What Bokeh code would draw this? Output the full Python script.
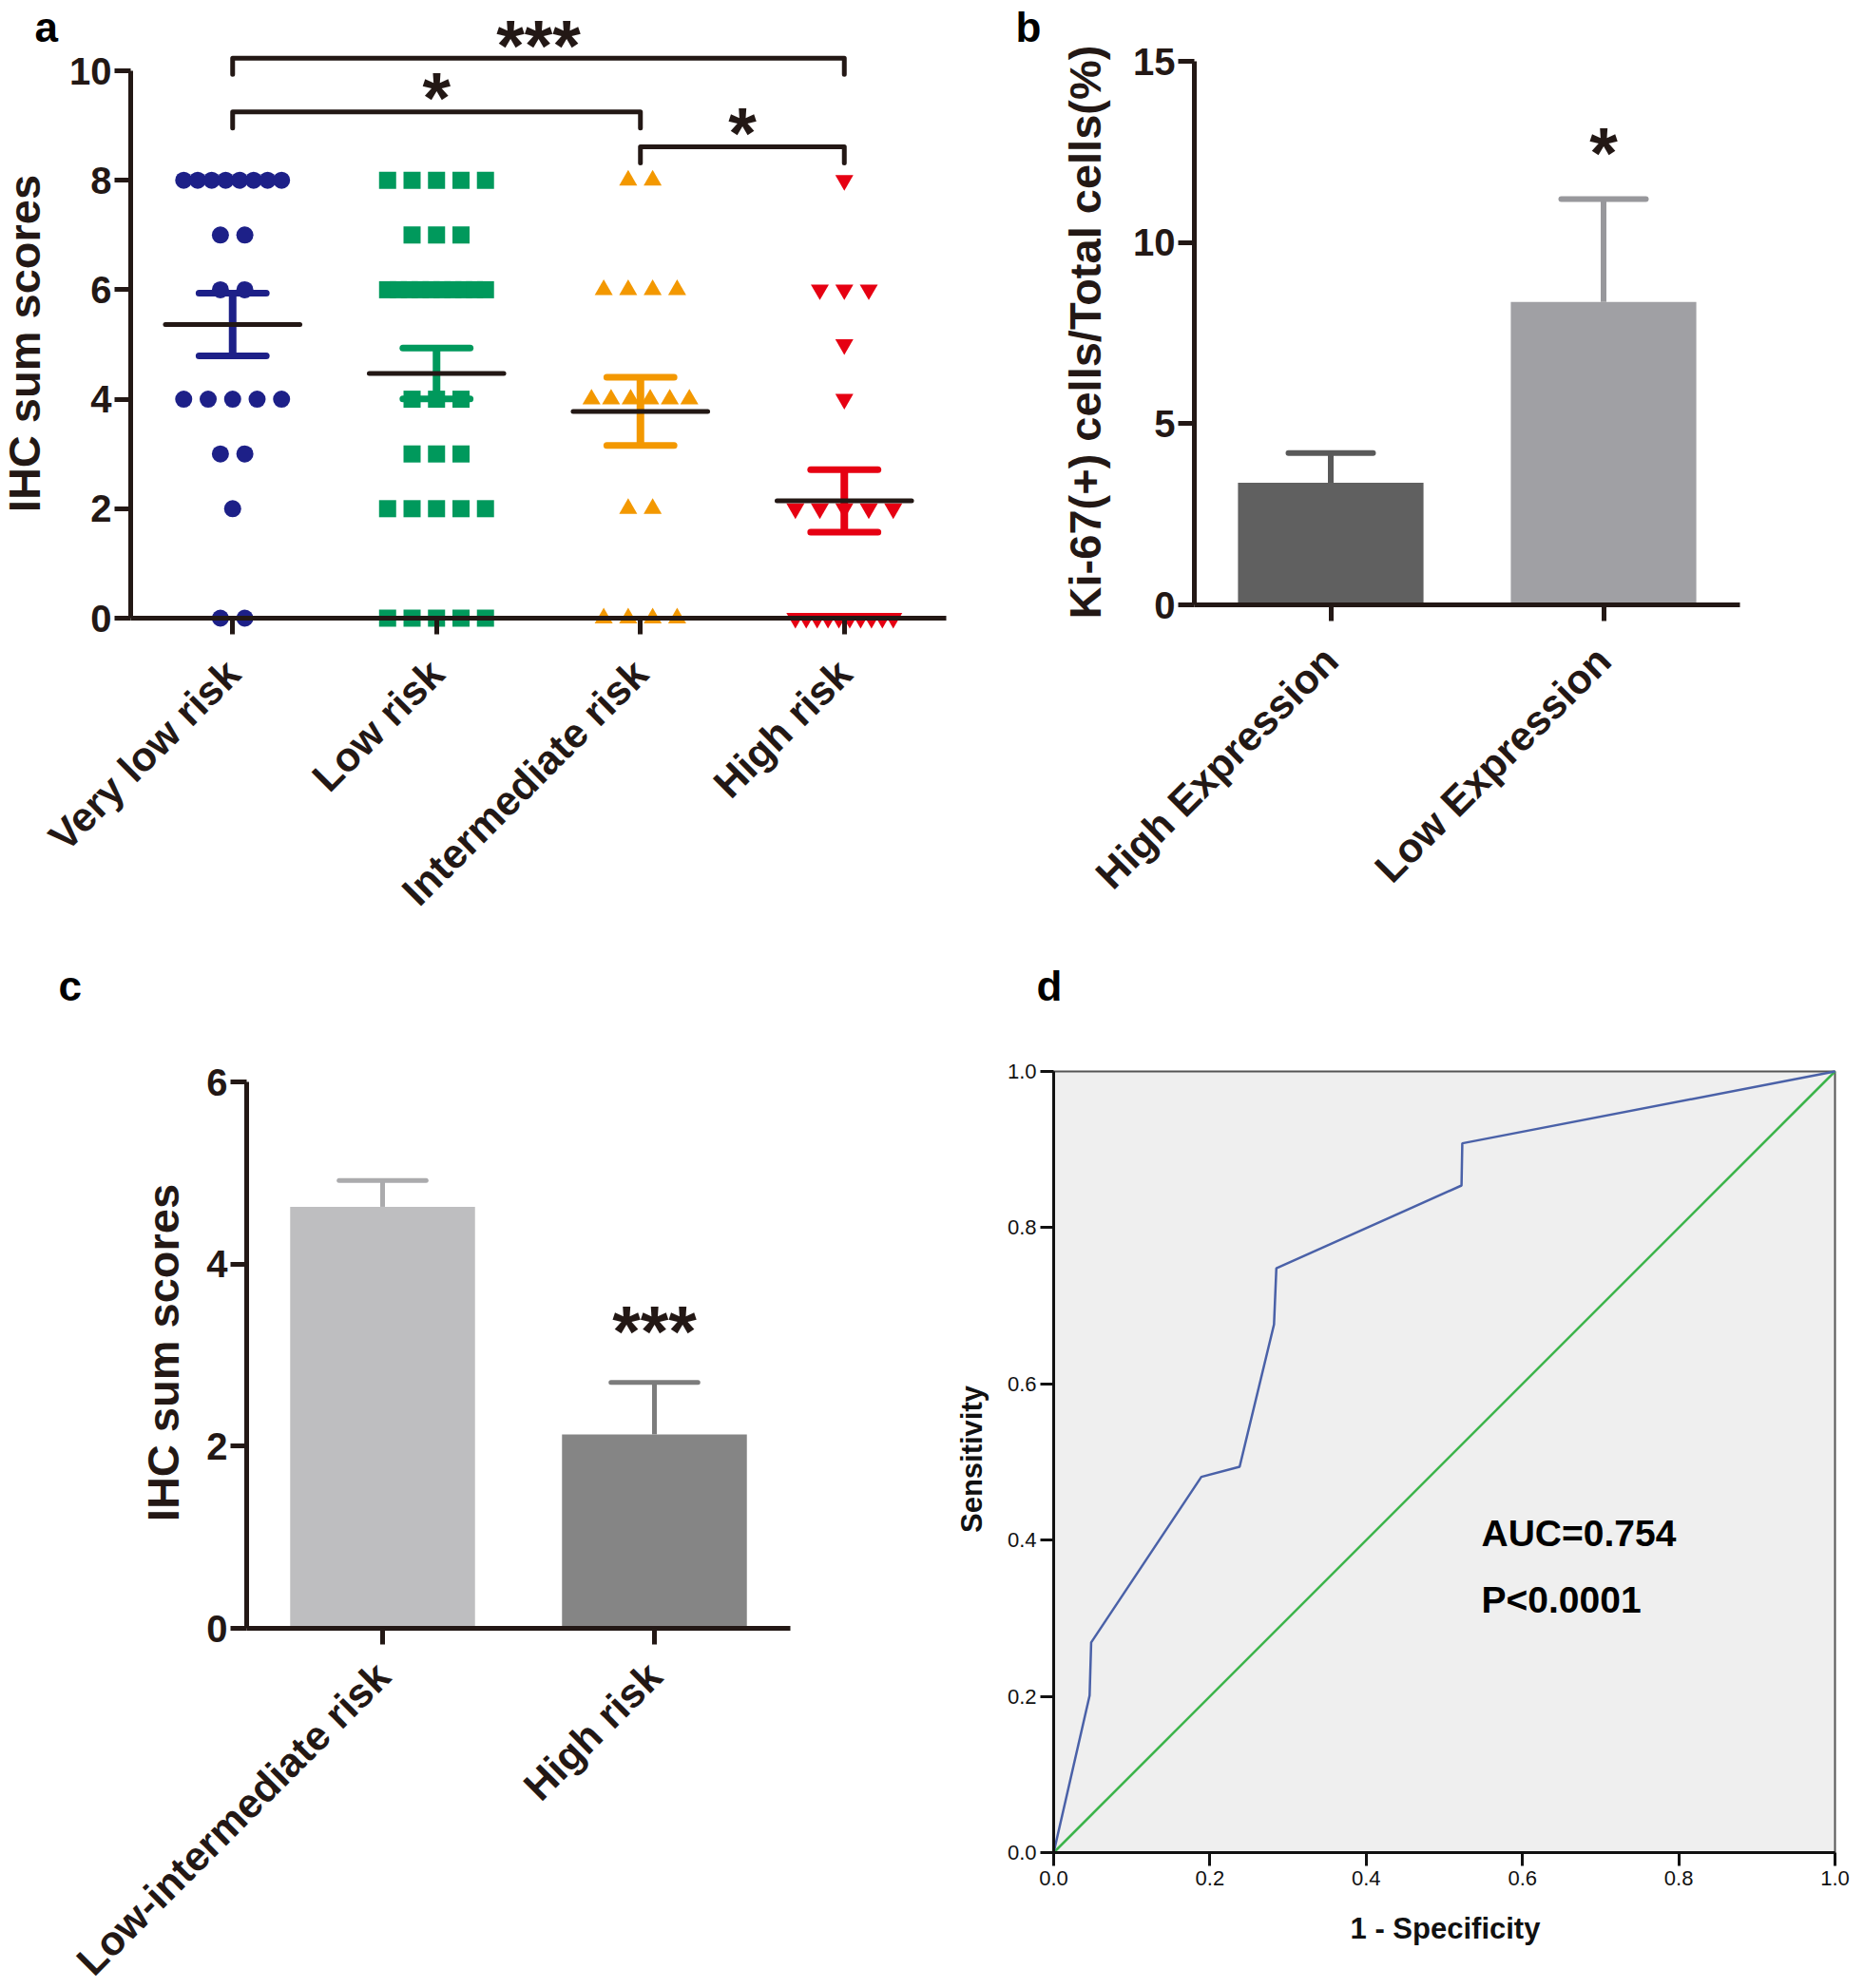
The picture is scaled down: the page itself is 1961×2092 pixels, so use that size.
import math
import numpy as np
from bokeh.plotting import figure
from bokeh.layouts import row, column
from bokeh.models import Range1d, FixedTicker, NumeralTickFormatter
from bokeh.embed import file_html
from bokeh.resources import INLINE
from bokeh.core.properties import value

FONT = "Liberation Sans"
INK = "#231815"

# ---------------- Panel a: IHC sum scores of individual cases ----------------
risk_groups = ["Very low risk", "Low risk", "Intermediate risk", "High risk"]
very_low_risk_scores = [8, 8, 8, 8, 8, 8, 8, 8, 7, 7, 6, 6, 4, 4, 4, 4, 4, 3, 3, 2, 0, 0]
low_risk_scores = [8, 8, 8, 8, 8, 7, 7, 7, 6, 6, 6, 6, 6, 6, 6, 6, 6, 6,
                   4, 4, 4, 3, 3, 3, 2, 2, 2, 2, 2, 0, 0, 0, 0, 0]
intermediate_risk_scores = [8, 8, 6, 6, 6, 6, 4, 4, 4, 4, 4, 4, 2, 2, 0, 0, 0, 0]
high_risk_scores = [8, 6, 6, 6, 5, 4, 2, 2, 2, 2, 2, 0, 0, 0, 0, 0, 0, 0, 0, 0, 0]
risk_colors = ["#1d2088", "#00995c", "#f39800", "#e60012"]
risk_markers = ["circle", "square", "triangle", "inverted_triangle"]
comparison_pairs = [(0, 3), (0, 2), (2, 3)]
comparison_labels = ["***", "*", "*"]
comparison_levels = [10.23, 9.25, 8.61]

# ---------------- Panel b: Ki-67 ----------------
ki67_groups = ["High Expression", "Low Expression"]
ki67_mean = [3.37, 8.36]
ki67_sem = [0.82, 2.84]
ki67_colors = ["#606060", "#a0a0a4"]
ki67_err_colors = ["#595959", "#98989c"]
ki67_sig = ["", "*"]

# ---------------- Panel c: IHC sum scores, two groups ----------------
ihc_groups = ["Low-intermediate risk", "High risk"]
ihc_mean = [4.63, 2.13]
ihc_sem = [0.29, 0.57]
ihc_colors = ["#bebec0", "#858585"]
ihc_err_colors = ["#ababad", "#7c7c7c"]
ihc_sig = ["", "***"]

# ---------------- Panel d: ROC ----------------
roc_fpr = [0.0, 0.046, 0.048, 0.189, 0.238, 0.282, 0.285, 0.522, 0.523, 1.0]
roc_tpr = [0.0, 0.201, 0.269, 0.481, 0.494, 0.676, 0.748, 0.854, 0.908, 1.0]
chance_fpr = [0.0, 1.0]
chance_tpr = [0.0, 1.0]
roc_stats = ["AUC=0.754", "P<0.0001"]


class Geo:
    """Maps page pixels to data units for one figure whose frame fills the canvas."""
    def __init__(self, fx, fy, w, h, px_at, x_at, ppx, py_at, y_at, ppy):
        self.fx, self.fy, self.w, self.h = fx, fy, w, h
        self.px_at, self.x_at, self.ppx = px_at, x_at, ppx
        self.py_at, self.y_at, self.ppy = py_at, y_at, ppy

    def x(self, px):
        return self.x_at + (px - self.px_at) / self.ppx

    def y(self, py):
        return self.y_at + (self.py_at - py) / self.ppy

    def figure(self):
        p = figure(width=self.w, height=self.h, title=None,
                   x_range=Range1d(self.x(self.fx), self.x(self.fx + self.w)),
                   y_range=Range1d(self.y(self.fy + self.h), self.y(self.fy)),
                   output_backend="svg", toolbar_location=None,
                   min_border_left=0, min_border_right=0,
                   min_border_top=0, min_border_bottom=0)
        p.grid.visible = False
        p.outline_line_color = None
        p.border_fill_color = "white"
        p.background_fill_color = "white"
        return p


def style_axis(ax, lw, tick_out, size, bold=True, standoff=3, color=INK):
    ax.axis_line_color = color
    ax.axis_line_width = lw
    ax.major_tick_line_color = color
    ax.major_tick_line_width = lw
    ax.major_tick_out = tick_out
    ax.major_tick_in = 0
    ax.minor_tick_line_color = None
    ax.major_label_text_font = FONT
    ax.major_label_text_font_size = f"{size}px"
    ax.major_label_text_font_style = "bold" if bold else "normal"
    ax.major_label_text_color = color
    ax.major_label_standoff = standoff


def add_text(p, x, y, text, size, angle=0.0, align="center", color=INK, bold=True):
    p.text(x=[x], y=[y], text=[text], angle=angle, text_font=value(FONT),
           text_font_size=f"{size}px", text_font_style="bold" if bold else "normal",
           text_color=color, text_align=align, text_baseline="middle")


def swarm_offsets(values, slot=0.12, max_slots=5):
    vals = np.asarray(values, dtype=float)
    offs = np.zeros(len(vals))
    for v in np.unique(vals):
        idx = np.where(vals == v)[0]
        n = len(idx)
        step = slot if n <= max_slots else slot * (max_slots - 1) / (n - 1)
        offs[idx] = (np.arange(n) - (n - 1) / 2.0) * step
    return offs


STAR = 76

# ======================= Panel a =======================
ga = Geo(0, 0, 1000, 985, 137, -0.5, 214.5, 650, 0.0, 57.6)
pa = ga.figure()
all_scores = [very_low_risk_scores, low_risk_scores, intermediate_risk_scores, high_risk_scores]
marker_sizes = {"circle": 18, "square": 18, "triangle": 19, "inverted_triangle": 19}
for i, scores in enumerate(all_scores):
    xs = i + swarm_offsets(scores)
    pa.scatter(x=xs, y=scores, marker=risk_markers[i], size=marker_sizes[risk_markers[i]],
               fill_color=risk_colors[i], line_color=None)

for i, scores in enumerate(all_scores):
    arr = np.asarray(scores, dtype=float)
    m = arr.mean()
    s = arr.std(ddof=1) / math.sqrt(len(arr))
    c = risk_colors[i]
    pa.segment(x0=[i], y0=[m - s], x1=[i], y1=[m + s], line_color=c, line_width=8)
    pa.segment(x0=[i - 0.165, i - 0.165], y0=[m + s, m - s], x1=[i + 0.165, i + 0.165],
               y1=[m + s, m - s], line_color=c, line_width=7, line_cap="round")
    pa.segment(x0=[i - 0.33], y0=[m], x1=[i + 0.33], y1=[m], line_color=INK,
               line_width=5, line_cap="round")

leg = 17 / ga.ppy
sig_gap_px = [14, 15, 15]
for (i, j), lab, lev, gap in zip(comparison_pairs, comparison_labels, comparison_levels, sig_gap_px):
    pa.line(x=[i, i, j, j], y=[lev - leg, lev, lev, lev - leg], line_color=INK,
            line_width=5, line_join="round", line_cap="round")
    add_text(pa, (i + j) / 2, lev + gap / ga.ppy, lab, STAR)

ya = pa.yaxis[0]
style_axis(ya, 5, 17, 40)
ya.ticker = FixedTicker(ticks=[0, 2, 4, 6, 8, 10])
ya.bounds = (0, 10)
ya.fixed_location = -0.5
xa = pa.xaxis[0]
style_axis(xa, 5, 17, 43, standoff=34)
xa.ticker = FixedTicker(ticks=[0, 1, 2, 3])
xa.bounds = (-0.5, 3.5)
xa.major_label_overrides = {i: g for i, g in enumerate(risk_groups)}
xa.major_label_orientation = math.pi / 4
xa.fixed_location = 0

add_text(pa, ga.x(25), ga.y(361), "IHC sum scores", 47, angle=math.pi / 2)
add_text(pa, ga.x(36), ga.y(28), "a", 44, align="left", color="black")

# ======================= Panel b =======================
gb = Geo(1000, 0, 950, 985, 1256, -0.5, 287.0, 636, 0.0, 38.13)
pb = gb.figure()
bx = [0, 1]
pb.vbar(x=bx, top=ki67_mean, width=0.68, fill_color=ki67_colors, line_color=None)
for x, m, s, c in zip(bx, ki67_mean, ki67_sem, ki67_err_colors):
    pb.segment(x0=[x], y0=[m], x1=[x], y1=[m + s], line_color=c, line_width=6)
    pb.segment(x0=[x - 0.155], y0=[m + s], x1=[x + 0.155], y1=[m + s], line_color=c,
               line_width=6, line_cap="round")
for x, m, s, lab in zip(bx, ki67_mean, ki67_sem, ki67_sig):
    if lab:
        add_text(pb, x, m + s + 49 / gb.ppy, lab, STAR)
yb = pb.yaxis[0]
style_axis(yb, 5, 17, 40)
yb.ticker = FixedTicker(ticks=[0, 5, 10, 15])
yb.bounds = (0, 15)
yb.fixed_location = -0.5
xb = pb.xaxis[0]
style_axis(xb, 5, 17, 43, standoff=34)
xb.ticker = FixedTicker(ticks=bx)
xb.bounds = (-0.5, 1.5)
xb.major_label_overrides = {i: g for i, g in enumerate(ki67_groups)}
xb.major_label_orientation = math.pi / 4
xb.fixed_location = 0
add_text(pb, gb.x(1141), gb.y(349), "Ki-67(+) cells/Total cells(%)", 47, angle=math.pi / 2)
add_text(pb, gb.x(1068), gb.y(28), "b", 44, align="left", color="black")

# ======================= Panel c =======================
gc = Geo(0, 985, 1000, 1107, 259, -0.5, 286.0, 1713, 0.0, 95.8)
pc = gc.figure()
cx = [0, 1]
pc.vbar(x=cx, top=ihc_mean, width=0.68, fill_color=ihc_colors, line_color=None)
for x, m, s, c in zip(cx, ihc_mean, ihc_sem, ihc_err_colors):
    pc.segment(x0=[x], y0=[m], x1=[x], y1=[m + s], line_color=c, line_width=5)
    pc.segment(x0=[x - 0.16], y0=[m + s], x1=[x + 0.16], y1=[m + s], line_color=c,
               line_width=5, line_cap="round")
for x, m, s, lab in zip(cx, ihc_mean, ihc_sem, ihc_sig):
    if lab:
        add_text(pc, x, m + s + 54 / gc.ppy, lab, STAR)
yc = pc.yaxis[0]
style_axis(yc, 5, 17, 40)
yc.ticker = FixedTicker(ticks=[0, 2, 4, 6])
yc.bounds = (0, 6)
yc.fixed_location = -0.5
xc = pc.xaxis[0]
style_axis(xc, 5, 17, 43, standoff=26)
xc.ticker = FixedTicker(ticks=cx)
xc.bounds = (-0.5, 1.5)
xc.major_label_overrides = {i: g for i, g in enumerate(ihc_groups)}
xc.major_label_orientation = math.pi / 4
xc.fixed_location = 0
add_text(pc, gc.x(171), gc.y(1423), "IHC sum scores", 47, angle=math.pi / 2)
add_text(pc, gc.x(61), gc.y(1037), "c", 44, align="left", color="black")

# ======================= Panel d =======================
gd = Geo(1000, 985, 950, 1107, 1108, 0.0, 822.0, 1949, 0.0, 822.0)
pdd = gd.figure()
pdd.quad(left=[0], right=[1], bottom=[0], top=[1], fill_color="#efefef",
         line_color="#555555", line_width=2)
pdd.line(x=chance_fpr, y=chance_tpr, line_color="#3cb44b", line_width=2.5)
pdd.line(x=roc_fpr, y=roc_tpr, line_color="#4a61a8", line_width=2.5)
add_text(pdd, gd.x(1558), gd.y(1613), roc_stats[0], 39, align="left", color="black")
add_text(pdd, gd.x(1558), gd.y(1683), roc_stats[1], 39, align="left", color="black")
for ax in (pdd.xaxis[0], pdd.yaxis[0]):
    style_axis(ax, 3, 14, 22, bold=False, standoff=5, color="#111111")
    ax.ticker = FixedTicker(ticks=[0.0, 0.2, 0.4, 0.6, 0.8, 1.0])
    ax.formatter = NumeralTickFormatter(format="0.0")
    ax.bounds = (0, 1)
    ax.fixed_location = 0
pdd.yaxis[0].major_label_standoff = 4
add_text(pdd, gd.x(1022), gd.y(1535), "Sensitivity", 31, angle=math.pi / 2, color="#111111")
add_text(pdd, gd.x(1520), gd.y(2029), "1 - Specificity", 31, color="#111111")
add_text(pdd, gd.x(1090), gd.y(1037), "d", 44, align="left", color="black")

layout = column(row(pa, pb), row(pc, pdd))
open("out.html", "w").write(file_html(layout, INLINE))
